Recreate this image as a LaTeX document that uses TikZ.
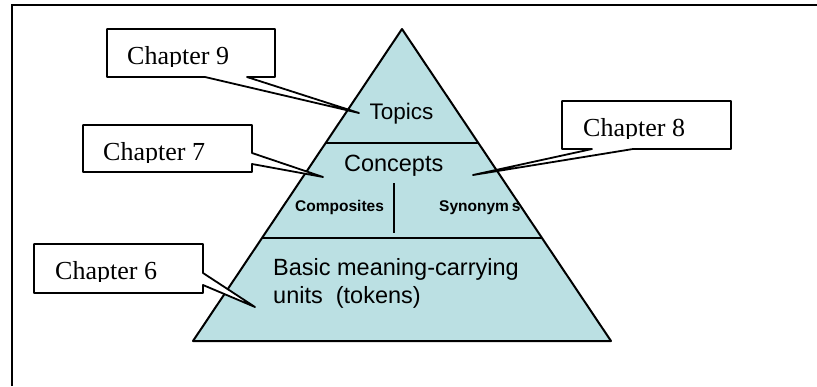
\documentclass[tikz,border=0pt]{standalone}
\usepackage{fontspec}
\setmainfont{Liberation Serif}
\setsansfont{Liberation Sans}
\usetikzlibrary{calc}
\definecolor{tierfill}{RGB}{187,224,227}
\begin{document}
\begin{tikzpicture}[x=1pt,y=-1pt,
  frame/.style={line width=2pt},
  tier/.style={draw=black, line width=2pt, fill=tierfill, line join=round},
  divider/.style={line width=2pt},
  label/.style={inner sep=0pt, font=\sffamily\fontsize{23.5}{28}\selectfont},
  sublabel/.style={inner sep=0pt, font=\sffamily\bfseries\fontsize{15.5}{18}\selectfont},
  chapbox/.style={inner sep=0pt, outer sep=0pt, anchor=north west},
  callout/.style={draw=black, fill=white, line width=1.8pt, line join=round},
  chaptext/.style={inner sep=0pt, anchor=base west, font=\fontsize{26}{30}\selectfont}]

\useasboundingbox (0,0) rectangle (817,386);

% page frame (top and left edges)
\draw[frame] (12,386) -- (12,5) -- (817,5);

% pyramid
\coordinate (apex) at (402,29);
\coordinate (bl) at (193,341);
\coordinate (br) at (611,341);
\draw[tier] (apex) -- (br) -- (bl) -- cycle;
\draw[divider] ($(apex)!0.36538!(bl)$) -- ($(apex)!0.36538!(br)$);
\draw[divider] ($(apex)!0.66987!(bl)$) -- ($(apex)!0.66987!(br)$);
\coordinate (split top) at (394,183);
\coordinate (split bot) at (394,233);
\draw[divider] (split top) -- (split bot);

% tier labels
\node[label, anchor=base, font=\sffamily\fontsize{22.5}{27}\selectfont] (topics) at (401.5,119) {Topics};
\node[label, anchor=base] (concepts) at (393.7,171) {Concepts};
\node[sublabel, anchor=base west] (composites) at (295,211) {Composites};
\node[sublabel, anchor=base west] (synonyms) at (439,211) {Synonym\kern3pt s};
\node[label, anchor=base west] (basic1) at (273,275) {Basic meaning-carrying};
\node[label, anchor=base west] (basic2) at (273,303) {units~ (tokens)};

% callout: Chapter 9 (wedge from bottom edge)
\node[chapbox, minimum width=168pt, minimum height=48pt] (c9) at (107,29) {};
\coordinate (t9) at (359,113);
\filldraw[callout] (c9.north west) -- (c9.north east) -- (c9.south east)
  -- ($(c9.south west)+(140,0)$) -- (t9) -- ($(c9.south west)+(98,0)$)
  -- (c9.south west) -- cycle;
\begin{scope}
  \clip (c9.north west) rectangle ($(c9.north east)+(0,37)$);
  \node[chaptext] (l9) at ($(c9.north west)+(20,35)$) {Chapter 9};
\end{scope}

% callout: Chapter 7 (wedge from right edge)
\node[chapbox, minimum width=169pt, minimum height=47pt] (c7) at (83,125) {};
\coordinate (t7) at (323,177);
\filldraw[callout] (c7.north west) -- (c7.north east)
  -- ($(c7.north east)+(0,28)$) -- (t7) -- ($(c7.north east)+(0,39)$)
  -- (c7.south east) -- (c7.south west) -- cycle;
\begin{scope}
  \clip (c7.north west) rectangle ($(c7.north east)+(0,37)$);
  \node[chaptext] (l7) at ($(c7.north west)+(20,35)$) {Chapter 7};
\end{scope}

% callout: Chapter 6 (wedge from right edge)
\node[chapbox, minimum width=169pt, minimum height=49pt] (c6) at (34,244) {};
\coordinate (t6) at (255,307);
\filldraw[callout] (c6.north west) -- (c6.north east)
  -- ($(c6.north east)+(0,29)$) -- (t6) -- ($(c6.north east)+(0,41)$)
  -- (c6.south east) -- (c6.south west) -- cycle;
\begin{scope}
  \clip (c6.north west) rectangle ($(c6.north east)+(0,37)$);
  \node[chaptext] (l6) at ($(c6.north west)+(21,35)$) {Chapter 6};
\end{scope}

% callout: Chapter 8 (wedge from bottom edge)
\node[chapbox, minimum width=169pt, minimum height=48pt] (c8) at (562,101) {};
\coordinate (t8) at (473,175);
\filldraw[callout] (c8.north west) -- (c8.north east) -- (c8.south east)
  -- ($(c8.south west)+(71,0)$) -- (t8) -- ($(c8.south west)+(30,0)$)
  -- (c8.south west) -- cycle;
\begin{scope}
  \clip (c8.north west) rectangle ($(c8.north east)+(0,37)$);
  \node[chaptext] (l8) at ($(c8.north west)+(21,35)$) {Chapter 8};
\end{scope}

\end{tikzpicture}
\end{document}
